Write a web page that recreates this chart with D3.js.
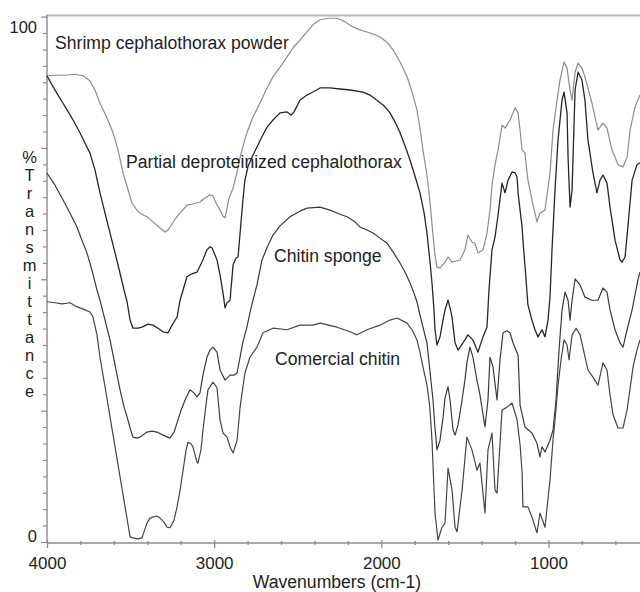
<!DOCTYPE html>
<html><head><meta charset="utf-8">
<script src="https://cdn.jsdelivr.net/npm/d3@7"></script>
<style>
html,body{margin:0;padding:0;background:#fff;}
svg{display:block;}
text{font-family:"Liberation Sans",Arial,sans-serif;fill:#222;}
</style></head>
<body>
<svg id="chart" width="640" height="592"></svg>
<script>
// ---- data (wavenumber cm-1, %T) ----
const seriesNames = ["Shrimp cephalothorax powder","Partial deproteinized cephalothorax","Chitin sponge","Comercial chitin"];

const shrimpW = [4000,3952,3892,3833,3785,3743,3713,3683,3641,3605,3575,3545,3515,3492,3462,3444,3402,3366,3324,3294,3276,3252,3228,3204,3163,3127,3085,3055,3025,3007,2989,2965,2947,2935,2923,2911,2887,2863,2845,2822,2804,2768,2726,2690,2648,2606,2564,2528,2487,2445,2409,2367,2319,2265,2217,2170,2128,2086,2050,2008,1966,1930,1888,1846,1816,1787,1769,1751,1727,1710,1691,1679,1667,1649,1619,1601,1577,1553,1529,1500,1482,1458,1440,1422,1392,1368,1350,1338,1320,1302,1278,1260,1230,1200,1182,1170,1158,1141,1123,1099,1069,1051,1021,991,973,949,931,907,889,871,859,841,823,800,782,740,704,674,650,620,584,554,530,512,482,453];
const shrimpT = [91.6,91.7,91.7,91.9,91.6,90.6,88.8,86.2,83.3,80.4,77.0,72.5,69.2,66.6,65.2,64.6,63.9,62.9,61.7,60.9,61.3,62.5,63.7,64.6,66.2,66.4,66.8,67.6,68.2,68.0,66.6,65.2,64.0,63.7,65.6,67.6,69.5,72.7,75.6,78.4,80.4,83.5,86.2,88.8,91.4,93.3,95.3,97.1,98.6,100.2,101.6,102.6,102.9,102.9,102.2,101.2,100.6,100.2,99.8,99.2,98.2,96.7,94.3,91.4,88.4,84.9,81.3,77.0,72.1,67.2,60.3,56.4,54.0,53.8,55.0,56.0,55.0,55.2,55.4,57.4,60.3,58.9,58.7,56.8,57.4,60.7,65.2,70.1,74.1,77.0,81.9,81.3,82.9,85.3,84.3,80.9,77.0,76.4,71.1,67.2,62.9,64.6,65.2,72.5,80.9,86.8,90.8,94.3,93.1,88.8,86.8,92.3,94.1,93.1,91.4,86.2,80.9,82.3,81.3,77.0,74.1,73.7,75.6,80.9,85.5,87.8];

const partialW = [4000,3970,3934,3904,3880,3844,3803,3773,3743,3713,3683,3653,3623,3593,3563,3539,3521,3503,3486,3456,3432,3396,3366,3336,3306,3276,3252,3222,3204,3186,3163,3133,3103,3073,3043,3025,3013,2995,2983,2965,2947,2935,2923,2905,2887,2869,2857,2845,2828,2816,2798,2774,2744,2714,2684,2648,2606,2564,2540,2522,2487,2445,2409,2367,2307,2247,2187,2110,2068,2026,1984,1948,1918,1888,1858,1828,1799,1769,1745,1727,1710,1697,1685,1679,1667,1649,1631,1619,1601,1589,1577,1559,1541,1512,1482,1452,1422,1392,1368,1356,1338,1320,1302,1278,1260,1242,1218,1200,1188,1182,1170,1158,1153,1141,1123,1099,1081,1063,1039,1021,1003,991,979,961,943,919,907,889,883,871,859,841,823,800,782,764,734,710,692,674,650,632,602,572,560,542,524,500,471,453];
const partialT = [91.6,89.8,87.8,86.2,84.9,82.9,80.4,78.4,76.4,73.1,68.6,64.6,60.7,56.8,52.8,49.5,47.2,43.6,42.0,42.0,42.2,42.8,42.6,42.0,41.3,41.1,42.6,44.2,47.5,49.5,52.1,52.7,53.0,55.0,57.4,58.0,57.8,56.4,55.4,52.5,48.9,46.0,47.0,47.5,54.4,55.8,56.0,60.7,67.2,71.1,73.7,75.6,77.6,79.6,81.5,82.9,84.3,84.5,83.9,84.5,86.8,87.8,88.4,89.2,89.2,89.0,88.8,88.4,87.8,86.8,85.7,84.3,82.5,80.4,77.8,75.0,71.9,68.6,64.8,60.7,55.4,50.9,45.6,41.7,38.7,40.3,43.6,45.6,47.5,46.0,44.2,39.1,37.7,39.1,40.7,39.7,37.3,40.3,42.2,49.5,57.4,59.9,64.2,70.5,68.6,71.1,72.7,72.5,71.7,68.6,65.2,61.9,59.3,54.4,46.6,43.6,41.7,40.3,41.7,40.3,43.6,48.1,57.4,69.2,79.0,86.8,88.4,84.3,75.6,65.8,69.2,88.8,92.3,90.8,86.8,79.0,72.5,68.6,71.1,72.1,70.5,65.8,59.3,55.4,55.0,56.0,62.3,71.1,74.1,74.5];

const spongeW = [4000,3952,3904,3862,3821,3791,3761,3731,3701,3683,3653,3623,3593,3563,3539,3521,3503,3486,3462,3444,3402,3372,3342,3306,3264,3240,3222,3198,3174,3145,3121,3103,3085,3067,3043,3025,3007,2983,2965,2935,2905,2881,2863,2845,2828,2804,2786,2768,2744,2714,2684,2648,2606,2546,2487,2445,2367,2307,2247,2205,2158,2128,2086,2050,2008,1966,1930,1888,1858,1828,1805,1787,1769,1751,1727,1710,1691,1679,1667,1649,1631,1619,1601,1589,1571,1559,1541,1517,1500,1488,1470,1452,1428,1410,1380,1362,1350,1332,1308,1290,1272,1248,1230,1212,1182,1170,1141,1099,1069,1051,1039,1021,991,973,955,937,919,901,883,871,859,841,811,782,740,704,674,650,632,602,572,554,530,500,465,453];
const spongeT = [72.5,70.1,67.2,64.6,61.9,59.3,56.8,53.4,49.5,47.5,43.6,39.7,34.8,29.9,26.5,24.6,22.4,20.6,20.4,20.6,21.6,21.8,21.6,21.0,20.4,21.6,23.4,25.9,27.9,29.9,29.3,28.5,29.3,32.8,36.3,37.7,38.3,37.3,33.8,31.8,32.8,32.8,33.2,36.3,39.3,42.2,45.0,47.5,50.5,55.4,57.8,60.3,62.1,63.9,65.0,65.6,65.8,65.2,64.4,63.9,62.9,61.9,61.3,60.7,59.7,58.7,57.0,54.8,53.0,50.9,48.9,47.2,44.6,42.2,39.1,33.8,27.9,22.4,18.1,20.0,24.4,28.3,30.5,27.9,22.0,21.0,23.0,27.9,31.8,35.2,38.3,36.3,31.8,28.9,22.6,27.9,36.3,34.4,27.9,35.8,41.1,41.5,41.1,39.1,36.7,26.9,22.6,21.4,19.4,16.7,18.7,17.7,20.0,22.0,27.9,37.7,45.6,49.1,47.5,43.6,47.5,51.7,50.5,48.1,47.5,47.5,49.9,49.1,45.6,41.7,39.1,38.3,41.7,45.6,51.5,53.0];

const commercialW = [4000,3952,3910,3862,3833,3803,3773,3743,3725,3701,3683,3653,3623,3593,3563,3533,3503,3486,3456,3432,3402,3384,3366,3342,3324,3300,3282,3264,3240,3222,3204,3186,3168,3157,3139,3127,3103,3097,3079,3067,3049,3037,3007,2983,2965,2947,2923,2905,2887,2863,2845,2816,2786,2744,2708,2648,2564,2487,2409,2367,2265,2187,2146,2086,2008,1948,1906,1846,1816,1787,1769,1751,1727,1710,1697,1679,1661,1637,1619,1601,1577,1559,1547,1517,1488,1458,1428,1410,1380,1362,1338,1320,1308,1278,1248,1218,1188,1170,1158,1153,1123,1099,1069,1051,1021,991,973,961,943,925,907,889,877,859,835,811,788,764,734,704,674,650,632,614,584,554,530,494,471,453];
const commercialT = [47.2,47.0,46.8,47.0,46.4,46.0,45.6,45.2,44.2,40.7,36.3,30.5,24.6,18.7,12.8,6.9,1.0,0.8,0.6,0.8,3.7,4.7,4.9,5.1,4.7,3.9,2.9,2.8,4.3,6.9,10.2,14.1,18.1,19.6,19.3,18.7,15.7,15.5,18.1,22.0,26.9,29.9,31.4,30.3,24.0,21.4,20.6,18.7,17.5,20.0,26.5,33.2,36.3,38.3,41.1,42.0,41.7,42.6,42.6,43.0,42.2,41.3,40.7,41.7,42.6,43.6,44.0,43.0,41.7,39.7,37.3,34.4,30.8,26.5,20.0,5.7,0.4,2.9,3.7,14.5,10.2,2.9,2.0,10.2,20.6,18.1,14.1,15.5,5.7,18.1,21.4,10.2,9.6,25.9,26.5,27.3,24.0,19.1,13.6,6.9,6.9,4.9,1.8,5.7,2.9,12.2,20.0,24.0,30.8,35.8,39.7,38.7,35.8,40.7,42.0,40.7,37.3,33.8,32.4,30.8,35.2,33.8,28.9,25.0,22.4,22.4,25.9,34.4,37.7,39.7];

const xTickLabels = [4000,3000,2000,1000];
const yTickLabels = [0,100];
const yLabelText = "%Transmittance";
const xLabelText = "Wavenumbers (cm-1)";

// label anchors in data units (wavenumber, %T)
const labelAnchors = [[3952,96.9],[3527,73.4],[2642,55.0],[2636,34.8]];

// ---- drawing ----
const svg = d3.select("#chart");
const x = d3.scaleLinear().domain([4000,1000]).range([47,548.5]);
const y = d3.scaleLinear().domain([0,100]).range([542,33]);
const yTop = 3200/31;      // top of frame

const colors = ["#8c8c8c","#262626","#3a3a3a","#454545"];
const widths = [1.2,1.3,1.2,1.2];

const series = [
  [shrimpW, shrimpT],
  [partialW, partialT],
  [spongeW, spongeT],
  [commercialW, commercialT]
];

const line = d3.line().x(d=>x(d[0])).y(d=>y(d[1]));

// frame: top line
svg.append("line").attr("x1",x(4000)).attr("x2",640).attr("y1",y(yTop)-1).attr("y2",y(yTop)-1)
  .attr("stroke","#b8b8b8").attr("stroke-width",2);

// left axis minor/major ticks
const yTickVals = d3.range(33).map(k=>k*100/31);
const yAx = svg.append("g").attr("transform",`translate(${x(4000)},0)`)
  .call(d3.axisLeft(y).tickValues(yTickVals).tickSize(4).tickFormat(""));
yAx.select(".domain").attr("stroke","#9a9a9a").attr("stroke-width",1.6)
   .attr("d",`M0,${y(0)+1}V${y(yTop)-2}`);
yAx.selectAll(".tick line").attr("stroke","#8a8a8a").attr("stroke-width",1.2)
   .attr("x2",(d,i)=> i%8===0 ? -6 : -4);

// y labels
const yLab = svg.append("g").attr("transform",`translate(${x(4000)},0)`)
  .call(d3.axisLeft(y).tickValues(yTickLabels).tickSize(0).tickPadding(10).tickFormat(d3.format("d")));
yLab.select(".domain").remove();
yLab.selectAll("text").attr("font-size",16.5).attr("fill","#222")
  .attr("font-family",'"Liberation Sans",Arial,sans-serif').attr("dy","-0.05em");

// bottom axis
const xTickVals = d3.range(4000, 400, -200);
const xAx = svg.append("g").attr("transform",`translate(0,${y(0)+1})`)
  .call(d3.axisBottom(x).tickValues(xTickVals).tickSize(3).tickFormat(""));
xAx.select(".domain").attr("stroke","#a8a8a8").attr("stroke-width",2)
  .attr("d",`M${x(4000)},0H640`);
xAx.selectAll(".tick line").attr("stroke","#8a8a8a").attr("stroke-width",1.3)
  .attr("y1",d=> d%1000===0 ? -3 : -2).attr("y2",d=> d%1000===0 ? 5 : 2);

const xLab = svg.append("g").attr("transform",`translate(0,${y(0)+1})`)
  .call(d3.axisBottom(x).tickValues(xTickLabels).tickSize(0).tickPadding(14).tickFormat(d3.format("d")));
xLab.select(".domain").remove();
xLab.selectAll("text").attr("font-size",17).attr("fill","#222")
  .attr("font-family",'"Liberation Sans",Arial,sans-serif');

// axis titles
svg.append("text").attr("x",337).attr("y",588).attr("text-anchor","middle")
  .attr("font-size",17.6).text(xLabelText);
const yl = svg.append("text").attr("text-anchor","middle").attr("font-size",16.5);
yLabelText.split("").forEach((ch,i)=>{
  yl.append("tspan").attr("x",29.5).attr("y",163+i*18).text(ch);
});

// curves
series.forEach((s,i)=>{
  const pts = s[0].map((w,j)=>[w, s[1][j]]);
  svg.append("path").datum(pts).attr("d",line).attr("fill","none")
    .attr("stroke",colors[i]).attr("stroke-width",widths[i]).attr("stroke-linejoin","round");
});

// series labels
seriesNames.forEach((n,i)=>{
  svg.append("text").attr("x",x(labelAnchors[i][0])).attr("y",y(labelAnchors[i][1]))
    .attr("font-size",17.6).attr("fill","#222").text(n);
});
</script>
</body></html>
